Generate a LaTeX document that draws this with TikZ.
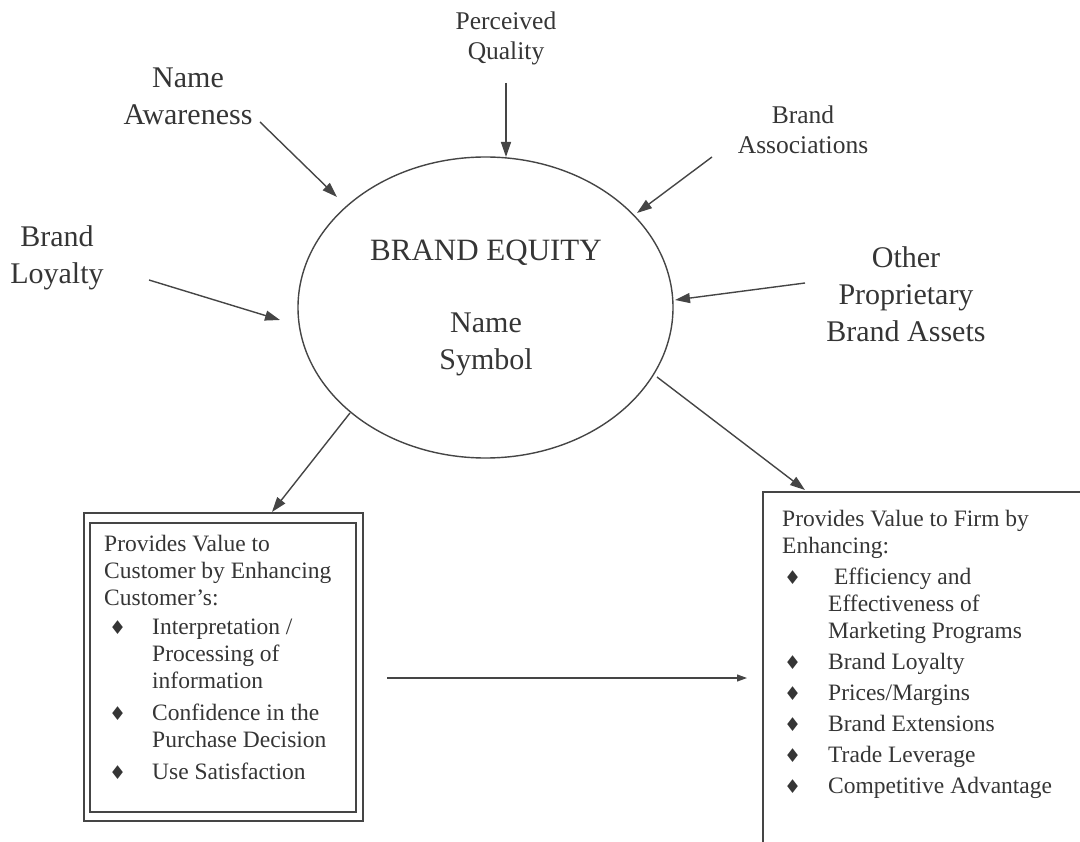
\documentclass[tikz,border=0pt]{standalone}
\usepackage{fontspec}
\setmainfont{Liberation Serif}
\newfontfamily\symfont{DejaVu Sans}
\usetikzlibrary{shapes.geometric,arrows.meta}
\definecolor{ink}{HTML}{353535}
\definecolor{wire}{HTML}{454545}
\newcommand{\bul}{{\symfont\fontsize{19}{19}\selectfont ♦}}
\newcommand{\bigtxt}{\fontsize{30}{37}\selectfont}
\newcommand{\titletxt}{\fontsize{31}{37}\selectfont}
\newcommand{\midtxt}{\fontsize{25.5}{30}\selectfont}
\newcommand{\boxtxt}{\fontsize{23.5}{27}\selectfont}
\begin{document}
\begin{tikzpicture}[x=1pt,y=-1pt,
  every node/.style={text=ink},
  label/.style={align=center, inner sep=0},
  feed/.style={draw=wire, line width=1.4pt, -{Triangle[length=15pt,width=10pt]}},
  frame/.style={draw=wire, line width=1.2pt}]
\useasboundingbox (0,0) rectangle (1080,842);

% central ellipse
\node[ellipse, draw=wire, line width=1.4pt, minimum width=375pt, minimum height=301pt, inner sep=0] (eq) at (485.5,307.5) {};
\node[label, font=\titletxt] (eqtitle) at (486,253) {BRAND EQUITY};
\node[label, font=\bigtxt] (eqsub) at (486,344) {Name\\Symbol};

% incoming components
\node[label, font=\bigtxt] (aware) at (188,96) {Name\\Awareness};
\node[label, font=\midtxt] (qual) at (506,38) {Perceived\\Quality};
\node[label, font=\midtxt] (assoc) at (803,130) {Brand\\Associations};
\node[label, font=\bigtxt] (loyal) at (57,258) {Brand\\Loyalty};
\node[label, font=\bigtxt] (other) at (906,294) {Other\\Proprietary\\Brand Assets};

\coordinate (awareS) at (260,122);  \coordinate (awareE) at (337,197);
\coordinate (qualS) at (506,83);    \coordinate (qualE) at (506,157);
\coordinate (assocS) at (712,157);  \coordinate (assocE) at (637,213);
\coordinate (loyalS) at (149,280);  \coordinate (loyalE) at (280,320);
\coordinate (otherS) at (805,283);  \coordinate (otherE) at (675,300);

\draw[feed] (awareS) -- (awareE);
\draw[feed] (qualS) -- (qualE);
\draw[feed] (assocS) -- (assocE);
\draw[feed] (loyalS) -- (loyalE);
\draw[feed] (otherS) -- (otherE);

% customer value box (double frame)
\draw[frame] (84,513) rectangle (363,821);
\draw[frame] (90,523) rectangle (356,812);
\node[anchor=north west, inner sep=0, font=\boxtxt] (cust) at (104,532) {%
\begin{tabular}{@{}p{48pt}@{}l@{}}
\multicolumn{2}{@{}l@{}}{Provides Value to}\\
\multicolumn{2}{@{}l@{}}{Customer by Enhancing}\\
\multicolumn{2}{@{}l@{}}{Customer’s:}\\[2pt]
\hspace{5pt}\bul & Interpretation /\\
 & Processing of\\
 & information\\[5pt]
\hspace{5pt}\bul & Confidence in the\\
 & Purchase Decision\\[5pt]
\hspace{5pt}\bul & Use Satisfaction
\end{tabular}};

% firm value box (open frame)
\draw[frame] (1080,492) -- (763,492) -- (763,842);
\node[anchor=north west, inner sep=0, font=\boxtxt] (firm) at (782,507) {%
\begin{tabular}{@{}p{46pt}@{}l@{}}
\multicolumn{2}{@{}l@{}}{Provides Value to Firm by}\\
\multicolumn{2}{@{}l@{}}{Enhancing:}\\[4pt]
\hspace{2pt}\bul & \ Efficiency and\\
 & Effectiveness of\\
 & Marketing Programs\\[4pt]
\hspace{2pt}\bul & Brand Loyalty\\[4pt]
\hspace{2pt}\bul & Prices/Margins\\[4pt]
\hspace{2pt}\bul & Brand Extensions\\[4pt]
\hspace{2pt}\bul & Trade Leverage\\[4pt]
\hspace{2pt}\bul & Competitive Advantage
\end{tabular}};

% outgoing value arrows
\coordinate (toCustS) at (350,413); \coordinate (toCustE) at (272,512);
\coordinate (toFirmS) at (657,377); \coordinate (toFirmE) at (805,490);
\coordinate (linkS) at (387,678);   \coordinate (linkE) at (747,678);
\draw[feed] (toCustS) -- (toCustE);
\draw[feed] (toFirmS) -- (toFirmE);
\draw[feed, line width=1.1pt, -{Triangle[length=10pt,width=7pt]}] (linkS) -- (linkE);
\end{tikzpicture}
\end{document}
